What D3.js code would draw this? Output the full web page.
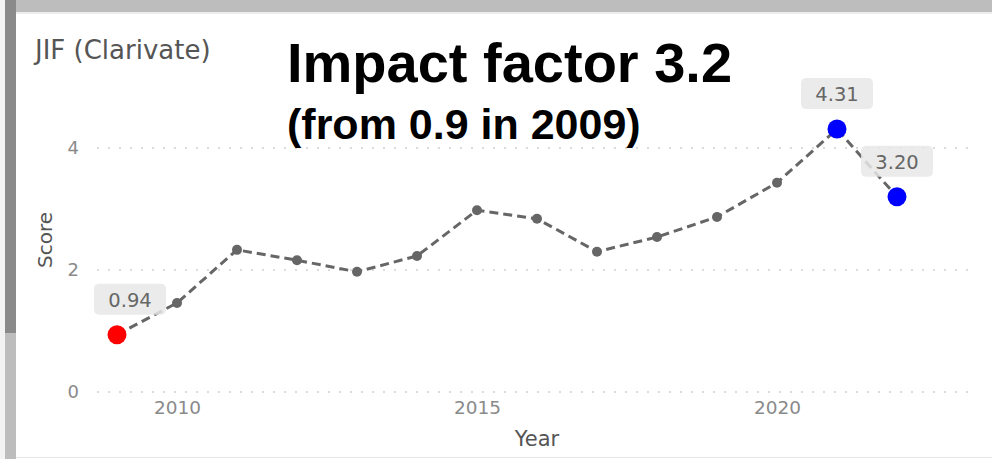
<!DOCTYPE html>
<html><head><meta charset="utf-8">
<script src="https://cdn.jsdelivr.net/npm/d3@7"></script>
<style>html,body{margin:0;padding:0;background:#fff;overflow:hidden}</style>
</head><body>
<svg id="c" width="992" height="459"></svg>
<script>
const years = [2009,2010,2011,2012,2013,2014,2015,2016,2017,2018,2019,2020,2021,2022];
const scores = [0.94,1.46,2.33,2.16,1.97,2.23,2.98,2.84,2.30,2.54,2.87,3.43,4.31,3.20];
const yTicks = [0,2,4];
const xTicks = [2010,2015,2020];
const highlights = [
  {year:2009, value:0.94, label:"0.94", color:"#ff0000", dx:13},
  {year:2021, value:4.31, label:"4.31", color:"#0000ff", dx:0},
  {year:2022, value:3.20, label:"3.20", color:"#0000ff", dx:0}
];
const headerText = "JIF (Clarivate)";
const titleLine1 = "Impact factor 3.2";
const titleLine2 = "(from 0.9 in 2009)";

const svg = d3.select("#c");
// frame decorations
svg.append("rect").attr("x",0).attr("y",0).attr("width",992).attr("height",459).attr("fill","#fff");
svg.append("rect").attr("x",0).attr("y",0).attr("width",5).attr("height",459).attr("fill","#f3f3f3");
svg.append("rect").attr("x",5).attr("y",0).attr("width",11).attr("height",333).attr("fill","#8a8a8a");
svg.append("rect").attr("x",5).attr("y",333).attr("width",11).attr("height",126).attr("fill","#bdbdbd");
svg.append("rect").attr("x",16).attr("y",0).attr("width",976).attr("height",12).attr("fill","#bdbdbd");
svg.append("rect").attr("x",16).attr("y",12).attr("width",976).attr("height",2).attr("fill","#ececec");
svg.append("rect").attr("x",16).attr("y",457).attr("width",976).attr("height",1).attr("fill","#e6e6e6");

const x = d3.scaleLinear().domain([2009,2022]).range([117,897]);
const y = d3.scaleLinear().domain([0,4]).range([392,148]);
const gridX0 = 97, gridX1 = 973;

const font = "'DejaVu Sans', Verdana, sans-serif";

// grid
svg.append("g").selectAll("line").data(yTicks).join("line")
  .attr("x1",gridX0).attr("x2",gridX1)
  .attr("y1",d=>y(d)).attr("y2",d=>y(d))
  .attr("stroke","#cfcfcf").attr("stroke-width",1.5).attr("stroke-dasharray","2,9");

// y axis labels
const yAxis = d3.axisLeft(y).tickValues(yTicks).tickSize(0).tickPadding(0).tickFormat(d3.format("d"));
const gy = svg.append("g").attr("transform","translate(79,0)").call(yAxis);
gy.select(".domain").remove();
gy.selectAll("text").attr("font-family",font).attr("font-size",18).attr("fill","#8a8a8a");

// x axis labels
const xAxis = d3.axisBottom(x).tickValues(xTicks).tickSize(0).tickPadding(0).tickFormat(d3.format("d"));
const gx = svg.append("g").attr("transform","translate(0,401)").call(xAxis);
gx.select(".domain").remove();
gx.selectAll("text").attr("font-family",font).attr("font-size",18.5).attr("fill","#8a8a8a");

// axis titles
svg.append("text").attr("x",537).attr("y",446).attr("text-anchor","middle")
  .attr("font-family",font).attr("font-size",21).attr("fill","#555").text("Year");
svg.append("text").attr("transform","translate(52,240) rotate(-90)").attr("text-anchor","middle")
  .attr("font-family",font).attr("font-size",20).attr("fill","#555").text("Score");

// header
svg.append("text").attr("x",35).attr("y",59).attr("font-family",font).attr("font-size",26)
  .attr("fill","#555").text(headerText);

// line
const data = years.map((yr,i)=>({year:yr,value:scores[i]}));
const line = d3.line().x(d=>x(d.year)).y(d=>y(d.value));
svg.append("path").datum(data).attr("d",line).attr("fill","none")
  .attr("stroke","#666").attr("stroke-width",3).attr("stroke-dasharray","9,5");

svg.append("g").selectAll("circle").data(data.filter(d=>!highlights.some(h=>h.year===d.year))).join("circle")
  .attr("cx",d=>x(d.year)).attr("cy",d=>y(d.value)).attr("r",5).attr("fill","#666");

// labels
const lab = svg.append("g").selectAll("g").data(highlights).join("g")
  .attr("transform",d=>`translate(${x(d.year)+d.dx},${y(d.value)-20})`);
lab.append("rect").attr("x",-36).attr("y",-31).attr("width",72).attr("height",31).attr("rx",5)
  .attr("fill","#e8e8e8").attr("fill-opacity",0.85);
lab.append("text").attr("x",0).attr("y",-8).attr("text-anchor","middle")
  .attr("font-family",font).attr("font-size",19.5).attr("fill","#666").text(d=>d.label);

svg.append("g").selectAll("circle").data(highlights).join("circle")
  .attr("cx",d=>x(d.year)).attr("cy",d=>y(d.value)).attr("r",9.5).attr("fill",d=>d.color);

// big title
svg.append("text").attr("x",287).attr("y",82).attr("font-family","'Liberation Sans', Arial, sans-serif")
  .attr("font-weight","bold").attr("font-size",56).attr("fill","#000").text(titleLine1);
svg.append("text").attr("x",287).attr("y",139).attr("font-family","'Liberation Sans', Arial, sans-serif")
  .attr("font-weight","bold").attr("font-size",43).attr("fill","#000").text(titleLine2);
</script>
</body></html>
